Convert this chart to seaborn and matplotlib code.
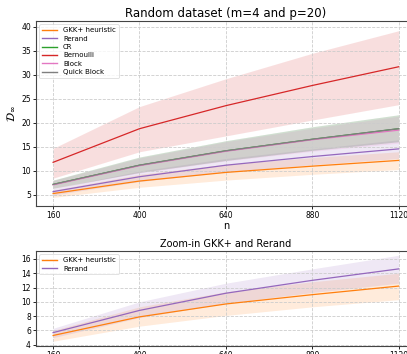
import numpy as np
import pandas as pd
import seaborn as sns
import matplotlib.pyplot as plt

n_values = [160, 400, 640, 880, 1120]

gkk_mean = [5.3, 7.9, 9.7, 11.0, 12.2]
gkk_low = [4.5, 6.6, 8.1, 9.3, 10.3]
gkk_high = [6.0, 9.3, 11.4, 12.8, 14.0]

rerand_mean = [5.7, 8.8, 11.2, 13.0, 14.6]
rerand_low = [5.0, 7.8, 9.8, 11.3, 12.6]
rerand_high = [6.3, 10.0, 12.6, 14.6, 16.5]

cr_mean = [7.2, 11.2, 14.2, 16.6, 18.8]
cr_low = [6.4, 9.7, 12.2, 14.3, 16.1]
cr_high = [8.1, 12.9, 16.3, 19.2, 21.7]

bern_mean = [11.8, 18.8, 23.6, 27.8, 31.7]
bern_low = [8.5, 14.0, 17.3, 20.6, 23.8]
bern_high = [14.7, 23.4, 29.2, 34.5, 39.2]

block_mean = [7.1, 11.1, 14.1, 16.5, 18.5]
block_low = [6.3, 9.6, 12.1, 14.1, 15.8]
block_high = [8.0, 12.7, 16.1, 18.9, 21.4]

qblock_mean = [7.2, 11.2, 14.2, 16.6, 18.8]
qblock_low = [6.4, 9.7, 12.2, 14.3, 16.1]
qblock_high = [8.1, 12.9, 16.3, 19.2, 21.7]

series = [
    ("GKK+ heuristic", gkk_mean, gkk_low, gkk_high, "tab:orange"),
    ("Rerand", rerand_mean, rerand_low, rerand_high, "tab:purple"),
    ("CR", cr_mean, cr_low, cr_high, "tab:green"),
    ("Bernoulli", bern_mean, bern_low, bern_high, "tab:red"),
    ("Block", block_mean, block_low, block_high, "tab:pink"),
    ("Quick Block", qblock_mean, qblock_low, qblock_high, "tab:gray"),
]

plt.rcParams["font.family"] = ["DejaVu Sans"]

fig = plt.figure(figsize=(4.07, 3.54), dpi=100)
ax1 = fig.add_axes([0.088, 0.418, 0.934, 0.523])
ax2 = fig.add_axes([0.088, 0.023, 0.934, 0.268])


def draw(ax, items):
    for name, mean, low, high, color in items:
        df = pd.DataFrame({"n": n_values, "val": mean})
        sns.lineplot(data=df, x="n", y="val", color=color, label=name,
                     linewidth=0.9, ax=ax)
        ax.fill_between(n_values, low, high, color=color, alpha=0.15,
                        linewidth=0)
    ax.set_xticks(n_values)
    ax.set_xlim(112, 1168)
    ax.grid(True, linestyle="--", color="#cccccc", linewidth=0.6)
    ax.tick_params(labelsize=5.5, length=2, width=0.6, pad=1.5)
    for s in ax.spines.values():
        s.set_linewidth(0.8)
        s.set_color("#444444")
    leg = ax.legend(loc="upper left", fontsize=5, handlelength=2.2,
                    borderpad=0.4, labelspacing=0.35, frameon=True,
                    fancybox=True, bbox_to_anchor=(0.0, 1.0))
    leg.get_frame().set_linewidth(0.5)
    for line in leg.get_lines():
        line.set_linewidth(1.0)


draw(ax1, series)
ax1.set_ylim(2.7, 41.25)
ax1.set_yticks([5, 10, 15, 20, 25, 30, 35, 40])
ax1.set_title("Random dataset (m=4 and p=20)", fontsize=8.5, pad=3)
ax1.set_xlabel("n", fontsize=7, labelpad=1)
ax1.set_ylabel(r"$\mathcal{D}_\infty$", fontsize=8, labelpad=3)

draw(ax2, series[:2])
ax2.set_ylim(3.85, 17.1)
ax2.set_yticks([4, 6, 8, 10, 12, 14, 16])
ax2.set_title("Zoom-in GKK+ and Rerand", fontsize=7, pad=3)
ax2.set_xlabel("")
ax2.set_ylabel("")

fig.savefig("out.png", dpi=100)
